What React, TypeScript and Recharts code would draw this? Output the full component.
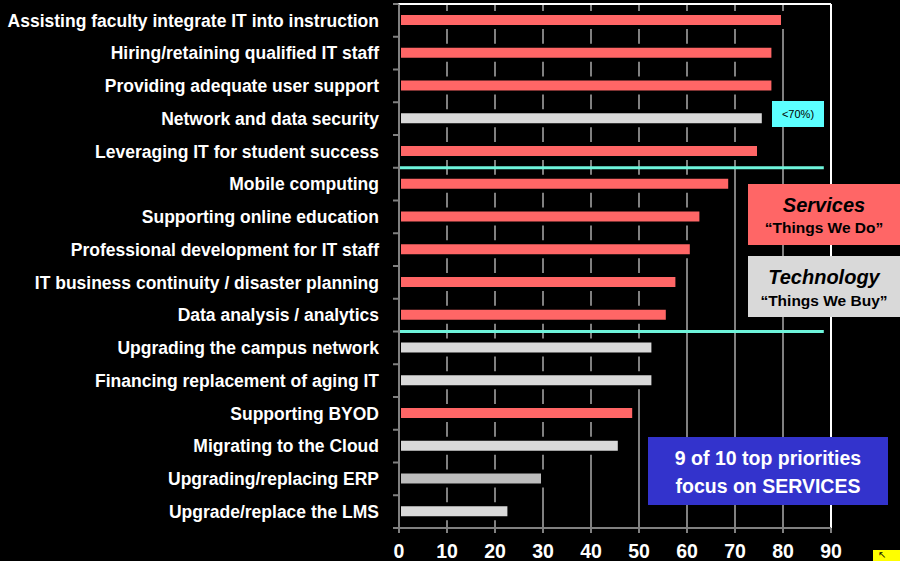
import React from 'react';
import { BarChart, Bar, XAxis, YAxis, CartesianGrid, ReferenceLine, Cell } from 'recharts';

const categories = [
  'Assisting faculty integrate IT into instruction',
  'Hiring/retaining qualified IT staff',
  'Providing adequate user support',
  'Network and data security',
  'Leveraging IT for student success',
  'Mobile computing',
  'Supporting online education',
  'Professional development for IT staff',
  'IT business continuity / disaster planning',
  'Data analysis / analytics',
  'Upgrading the campus network',
  'Financing replacement of aging IT',
  'Supporting BYOD',
  'Migrating to the Cloud',
  'Upgrading/replacing ERP',
  'Upgrade/replace the LMS',
];

const values = [80, 78, 78, 76, 75, 69, 63, 61, 58, 56, 53, 53, 49, 46, 30, 23];

// 'S' = services, 'T' = technology, 'E' = technology (highlighted)
const kinds = ['S', 'S', 'S', 'T', 'S', 'S', 'S', 'S', 'S', 'S', 'T', 'T', 'S', 'T', 'E', 'T'];

const xTicks = [0, 10, 20, 30, 40, 50, 60, 70, 80, 90];

// groups are separated after these rows
const groupEnds = ['Leveraging IT for student success', 'Data analysis / analytics'];

const kindColors: Record<string, string> = {
  S: '#FF6666',
  T: '#D9D9D9',
  E: '#BDBDBD',
};

const data = categories.map((name, i) => ({ name, value: values[i], kind: kinds[i] }));

const font = "'Liberation Sans', Arial, sans-serif";
const GRAY = '#808080';
const TICK_MARGIN = 20;
const TICK_LEN = 6;

// category label plus a small tick mark on the row boundary above it
function RowTick(props: any) {
  const { x, y, payload, index, visibleTicksCount } = props;
  const off = payload.offset || 0;
  const axisX = x + TICK_MARGIN;
  const last = index === visibleTicksCount - 1;
  return (
    <g>
      <line x1={axisX - TICK_LEN} x2={axisX} y1={y - off} y2={y - off} stroke={GRAY} strokeWidth={2} />
      {last && <line x1={axisX - TICK_LEN} x2={axisX} y1={y + off} y2={y + off} stroke={GRAY} strokeWidth={2} />}
      <text x={x} y={y} dy="0.355em" textAnchor="end" fill="#fff" fontSize={17.5} fontWeight="bold" fontFamily={font}>
        {payload.value}
      </text>
    </g>
  );
}

export default function App() {
  return (
    <div
      style={{
        position: 'absolute',
        left: 0,
        top: 0,
        width: 900,
        height: 561,
        background: '#000',
        overflow: 'hidden',
        fontFamily: font,
      }}
    >
      <BarChart
        width={900}
        height={561}
        data={data}
        layout="vertical"
        margin={{ top: 4, right: 69, bottom: 0, left: 0 }}
      >
        <CartesianGrid horizontal={false} stroke={GRAY} strokeWidth={2} />
        <XAxis
          type="number"
          domain={[0, 90]}
          ticks={xTicks}
          height={33}
          tickSize={5}
          tickMargin={11}
          axisLine={{ stroke: GRAY, strokeWidth: 2 }}
          tickLine={{ stroke: GRAY, strokeWidth: 2 }}
          tick={{ fill: '#fff', fontSize: 19.5, fontWeight: 'bold', fontFamily: font }}
        />
        <YAxis
          type="category"
          dataKey="name"
          width={399}
          interval={0}
          tickSize={0}
          tickMargin={TICK_MARGIN}
          tickLine={false}
          axisLine={{ stroke: GRAY, strokeWidth: 2 }}
          tick={<RowTick />}
        />
        <Bar dataKey="value" barSize={14} stroke="#000" strokeWidth={4} isAnimationActive={false}>
          {data.map((d, i) => (
            <Cell key={i} fill={kindColors[d.kind]} />
          ))}
        </Bar>
        <ReferenceLine x={90} stroke="#fff" strokeWidth={2} />
        {groupEnds.map((g) => (
          <ReferenceLine
            key={g}
            position="end"
            segment={[{ x: 0, y: g }, { x: 88.5, y: g }]}
            stroke="#6FF5DC"
            strokeWidth={3}
          />
        ))}
      </BarChart>

      {/* plot frame: white top edge, gray left axis */}
      <div
        style={{
          position: 'absolute',
          left: 398,
          top: 3,
          width: 433,
          height: 525,
          boxSizing: 'border-box',
          borderTop: '2px solid #fff',
          borderLeft: `2px solid ${GRAY}`,
          pointerEvents: 'none',
        }}
      />

      <div
        style={{
          position: 'absolute',
          left: 772,
          top: 101,
          width: 52,
          height: 26,
          background: '#5CFFFF',
          color: '#000',
          fontSize: 11,
          display: 'flex',
          alignItems: 'center',
          justifyContent: 'center',
        }}
      >
        &lt;70%)
      </div>

      <div
        style={{
          position: 'absolute',
          left: 748,
          top: 184,
          width: 152,
          height: 61,
          background: '#FF6666',
          color: '#000',
          textAlign: 'center',
          fontWeight: 'bold',
        }}
      >
        <div style={{ fontSize: 20, fontStyle: 'italic', marginTop: 9, lineHeight: '24px' }}>Services</div>
        <div style={{ fontSize: 15.5, lineHeight: '22px' }}>“Things We Do”</div>
      </div>

      <div
        style={{
          position: 'absolute',
          left: 748,
          top: 256,
          width: 152,
          height: 61,
          background: '#D9D9D9',
          color: '#000',
          textAlign: 'center',
          fontWeight: 'bold',
        }}
      >
        <div style={{ fontSize: 20, fontStyle: 'italic', marginTop: 9, lineHeight: '24px' }}>Technology</div>
        <div style={{ fontSize: 15.5, lineHeight: '24px' }}>“Things We Buy”</div>
      </div>

      <div
        style={{
          position: 'absolute',
          left: 648,
          top: 437,
          width: 240,
          height: 68,
          background: '#3333CC',
          color: '#fff',
          textAlign: 'center',
          fontWeight: 'bold',
          fontSize: 19.5,
          lineHeight: '28px',
          paddingTop: 7,
          boxSizing: 'border-box',
        }}
      >
        <div>9 of 10 top priorities</div>
        <div>focus on SERVICES</div>
      </div>

      <div
        style={{
          position: 'absolute',
          left: 872,
          top: 549,
          width: 28,
          height: 12,
          background: '#FFFF00',
          boxSizing: 'border-box',
          borderTop: '1px solid #000',
          borderLeft: '1px solid #000',
          color: '#000',
          fontSize: 10,
          lineHeight: '10px',
          paddingLeft: 5,
        }}
      >
        ↖
      </div>
    </div>
  );
}
